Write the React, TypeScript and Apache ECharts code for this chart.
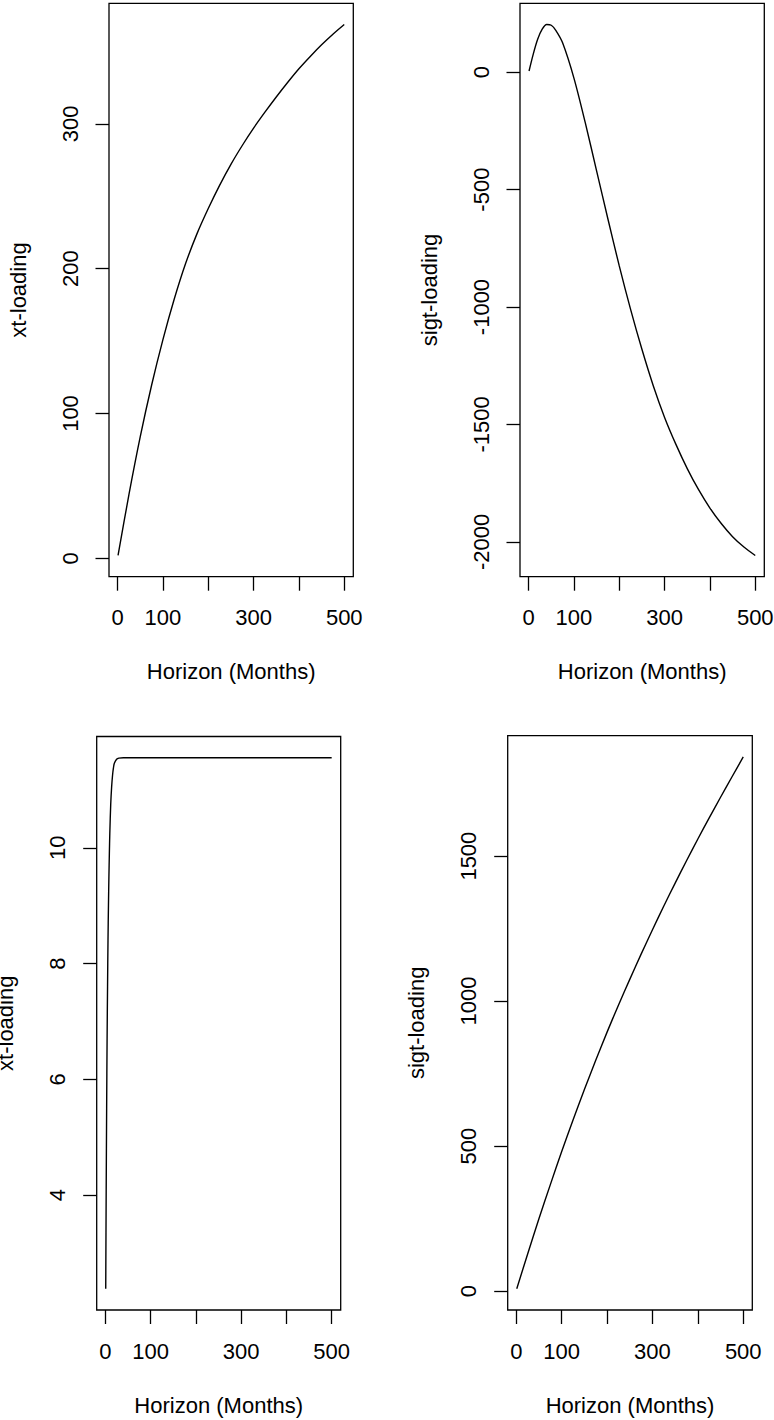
import React, { useEffect, useRef } from "react";
import * as echarts from "echarts";

// Horizon grid (months) shared by the smooth loading curves
const horizon = [1, 25, 50, 75, 100, 125, 150, 175, 200, 225, 250, 275, 300, 325, 350, 375, 400, 425, 450, 475, 500];

// Top-left: xt-loading
const xtLoadingTop = [2, 44, 84, 119.5, 151, 179, 203.5, 224, 241.5, 257.5, 272, 285, 297, 308, 318.5, 328.5, 338, 346.5, 354.5, 361.8, 368.5];

// Top-right: sigt-loading (denser near the early hump)
const sigtHorizonTop = [1, 10, 20, 30, 40, 50, 60, 75, 100, 125, 150, 175, 200, 225, 250, 275, 300, 325, 350, 375, 400, 425, 450, 475, 500];
const sigtLoadingTop = [5, 75, 140, 183, 203, 200, 178, 125, -25, -215, -420, -625, -825, -1010, -1180, -1335, -1470, -1585, -1688, -1778, -1856, -1922, -1978, -2022, -2058];

// Bottom-left: xt-loading (very fast rise, then flat)
const xtHorizonBottom = [1, 2, 3, 4, 5, 6, 7, 8, 9, 10, 12, 14, 16, 18, 20, 25, 30, 40, 60, 100, 200, 300, 400, 500];
const xtLoadingBottom = [2.38, 4.1, 5.5, 6.7, 7.6, 8.4, 9.0, 9.5, 9.9, 10.25, 10.75, 11.05, 11.25, 11.38, 11.46, 11.53, 11.55, 11.556, 11.556, 11.556, 11.556, 11.556, 11.556, 11.556];

// Bottom-right: sigt-loading
const sigtLoadingBottom = [8, 128, 250, 367, 481, 590, 695, 796, 893, 986, 1075, 1162, 1246, 1328, 1407, 1484, 1559, 1632, 1703, 1773, 1842];

const xTicks = [0, 100, 200, 300, 400, 500];
const xTickLabels = [0, 100, 300, 500];
const yTicksTL = [0, 100, 200, 300];
const yTicksTR = [-2000, -1500, -1000, -500, 0];
const yTicksBL = [4, 6, 8, 10];
const yTicksBR = [0, 500, 1000, 1500];

const xTitle = "Horizon (Months)";

const FONT = "'Liberation Sans', Arial, Helvetica, sans-serif";
const FS = 22;

// R-style range: data range padded by 4% on each side
function padded(values: number[]): [number, number] {
  const lo = Math.min(...values);
  const hi = Math.max(...values);
  const d = (hi - lo) * 0.04;
  return [lo - d, hi + d];
}

type Panel = {
  box: { left: number; top: number; width: number; height: number };
  xs: number[];
  ys: number[];
  yTicks: number[];
  yName: string;
};

const panels: Panel[] = [
  { box: { left: 109, top: 3.3, width: 244.3, height: 573.4 }, xs: horizon, ys: xtLoadingTop, yTicks: yTicksTL, yName: "xt-loading" },
  { box: { left: 520, top: 3.3, width: 244.3, height: 573.4 }, xs: sigtHorizonTop, ys: sigtLoadingTop, yTicks: yTicksTR, yName: "sigt-loading" },
  { box: { left: 96.7, top: 736.5, width: 244, height: 573.5 }, xs: xtHorizonBottom, ys: xtLoadingBottom, yTicks: yTicksBL, yName: "xt-loading" },
  { box: { left: 507.7, top: 735.7, width: 244.6, height: 574.3 }, xs: horizon, ys: sigtLoadingBottom, yTicks: yTicksBR, yName: "sigt-loading" },
];

const plain = (v: number) => String(v);

export default function App() {
  const ref = useRef<HTMLDivElement>(null);

  useEffect(() => {
    if (!ref.current) return;
    const chart = echarts.init(ref.current, null, { renderer: "svg" });

    const grid = panels.map((p) => ({
      left: p.box.left,
      top: p.box.top,
      width: p.box.width,
      height: p.box.height,
      show: true,
      borderColor: "#000",
      borderWidth: 1.3,
      backgroundColor: "transparent",
      containLabel: false,
      outerBoundsMode: "none",
    }));

    const xAxis = panels.map((p, i) => {
      const [mn, mx] = padded(p.xs);
      return {
        type: "value",
        gridIndex: i,
        min: mn,
        max: mx,
        position: "bottom",
        name: xTitle,
        nameLocation: "middle",
        nameGap: 84,
        nameTextStyle: { color: "#000", fontSize: FS, fontFamily: FONT },
        axisLine: { show: false, onZero: false },
        splitLine: { show: false },
        axisTick: { show: true, length: 14, inside: false, customValues: xTicks, lineStyle: { color: "#000", width: 1.3 } },
        axisLabel: { show: true, customValues: xTickLabels, formatter: plain, margin: 30, color: "#000", fontSize: FS, fontFamily: FONT },
      };
    });

    const yAxis = panels.map((p, i) => {
      const [mn, mx] = padded(p.ys);
      return {
        type: "value",
        gridIndex: i,
        min: mn,
        max: mx,
        position: "left",
        name: p.yName,
        nameLocation: "middle",
        nameGap: 80,
        nameRotate: 90,
        nameTextStyle: { color: "#000", fontSize: FS, fontFamily: FONT },
        axisLine: { show: false, onZero: false },
        splitLine: { show: false },
        axisTick: { show: true, length: 13.5, inside: false, customValues: p.yTicks, lineStyle: { color: "#000", width: 1.3 } },
        axisLabel: { show: true, rotate: 90, customValues: p.yTicks, formatter: plain, margin: 28, color: "#000", fontSize: FS, fontFamily: FONT },
      };
    });

    const series = panels.map((p, i) => ({
      type: "line",
      xAxisIndex: i,
      yAxisIndex: i,
      data: p.xs.map((x, k) => [x, p.ys[k]]),
      showSymbol: false,
      smooth: 0.3,
      lineStyle: { color: "#000", width: 1.4 },
      clip: false,
    }));

    chart.setOption({
      animation: false,
      backgroundColor: "#fff",
      textStyle: { fontFamily: FONT },
      grid,
      xAxis,
      yAxis,
      series,
    });

    return () => chart.dispose();
  }, []);

  return (
    <div
      ref={ref}
      style={{ position: "fixed", left: 0, top: 0, width: 774, height: 1420, background: "#fff" }}
    />
  );
}
